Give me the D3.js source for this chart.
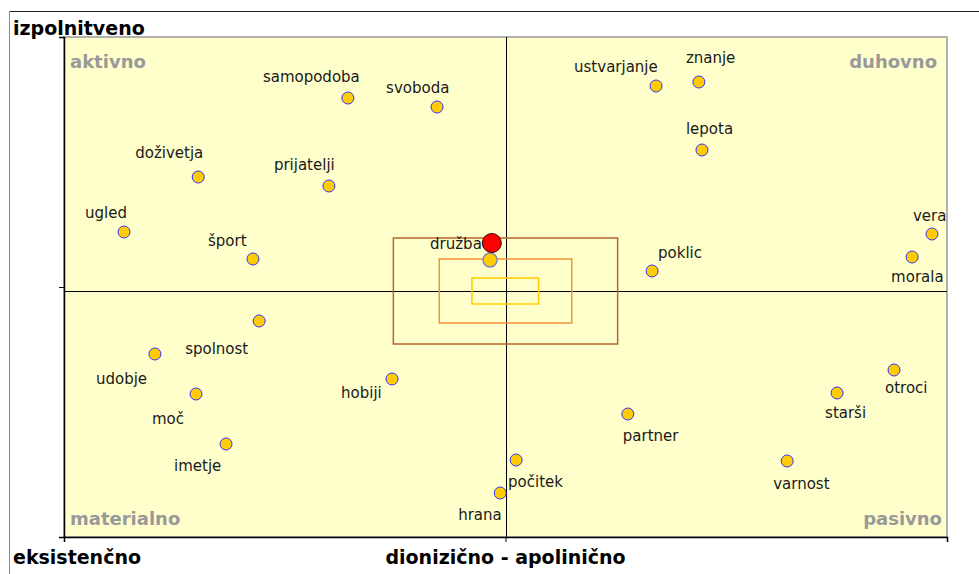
<!DOCTYPE html>
<html>
<head>
<meta charset="utf-8">
<script src="https://cdn.jsdelivr.net/npm/d3@7"></script>
<style>
  body { margin: 0; background: #fff; }
  svg { display: block; font-family: "DejaVu Sans", Verdana, sans-serif; }
</style>
</head>
<body>
<div id="chart"></div>
<script>
// values, x: dionizično(-1) .. apolinično(+1), y: eksistenčno(-1) .. izpolnitveno(+1)
const names = ["samopodoba", "svoboda", "ustvarjanje", "znanje", "lepota", "doživetja", "prijatelji",
  "ugled", "šport", "družba", "poklic", "vera", "morala", "spolnost", "udobje", "moč", "imetje",
  "hobiji", "partner", "počitek", "hrana", "varnost", "starši", "otroci"];
const xValues = [-0.357, -0.155, 0.341, 0.438, 0.445, -0.696, -0.400,
  -0.864, -0.572, -0.035, 0.332, 0.966, 0.921, -0.558, -0.794, -0.701, -0.633,
  -0.257, 0.277, 0.024, -0.012, 0.638, 0.751, 0.880];
const yValues = [0.756, 0.720, 0.804, 0.820, 0.548, 0.440, 0.404,
  0.220, 0.112, 0.108, 0.064, 0.212, 0.120, -0.136, -0.268, -0.428, -0.628,
  -0.368, -0.508, -0.692, -0.824, -0.696, -0.424, -0.332];

// the respondent's own point
const selfPoint = [-0.031, 0.176];
// centre of the cloud and the three spread boxes (x0, x1, y0, y1)
const centre = [0, -0.016];
const boxes = [
  [-0.254, 0.254, -0.228, 0.196],
  [-0.150, 0.150, -0.144, 0.112],
  [-0.076, 0.075, -0.068, 0.036]
];

const quadrants = ["aktivno", "duhovno", "materialno", "pasivno"];
const axisTitles = ["izpolnitveno", "eksistenčno", "dionizično - apolinično"];

// label placement relative to the point [dx, dy]
const labelOffset = {
  "samopodoba": [-85, -16], "svoboda": [-51, -14], "ustvarjanje": [-82, -14], "znanje": [-13, -19],
  "lepota": [-16, -16], "doživetja": [-63, -19], "prijatelji": [-55, -16], "ugled": [-39, -14],
  "šport": [-45, -13], "družba": [-60, -11], "poklic": [6, -13], "vera": [-19, -13],
  "morala": [-21, 25], "spolnost": [-74, 33], "udobje": [-59, 30], "moč": [-44, 30],
  "imetje": [-52, 27], "hobiji": [-51, 19], "partner": [-5, 27], "počitek": [-8, 27],
  "hrana": [-42, 27], "varnost": [-14, 28], "starši": [-12, 25], "otroci": [-9, 23]
};

const W = 979, H = 574;
const plotL = 64, plotR = 947, plotT = 37, plotB = 537;

const x = d3.scaleLinear().domain([-1, 1]).range([plotL, plotR]);
const y = d3.scaleLinear().domain([-1, 1]).range([plotB, plotT]);

const svg = d3.select("#chart").append("svg")
  .attr("width", W).attr("height", H);

// outer frame
svg.append("line").attr("x1", 9.5).attr("x2", W).attr("y1", 11.5).attr("y2", 11.5)
  .attr("stroke", "#222");
svg.append("line").attr("x1", 9.5).attr("x2", 9.5).attr("y1", 11.5).attr("y2", H)
  .attr("stroke", "#8a8a7a");

// plot background
svg.append("rect")
  .attr("x", plotL).attr("y", plotT)
  .attr("width", plotR - plotL).attr("height", plotB - plotT)
  .attr("fill", "#ffffcc").attr("stroke", "#999").attr("stroke-width", 1.5);

// crosshair
const g = svg.append("g");
g.append("line").attr("x1", x(-1)).attr("x2", x(1))
  .attr("y1", Math.round(y(centre[1])) + 0.5).attr("y2", Math.round(y(centre[1])) + 0.5)
  .attr("stroke", "#000");
g.append("line").attr("y1", y(-1)).attr("y2", y(1))
  .attr("x1", Math.round(x(centre[0])) + 0.5).attr("x2", Math.round(x(centre[0])) + 0.5)
  .attr("stroke", "#000");

// axes (ticks only)
svg.append("g").attr("transform", `translate(${plotL},0)`)
  .call(d3.axisLeft(y).tickValues([-1, 0]).tickSize(5).tickFormat(""))
  .call(a => a.select(".domain").attr("stroke-width", 1.5));
svg.append("g").attr("transform", `translate(0,${plotB})`)
  .call(d3.axisBottom(x).tickValues([0, 1]).tickSize(5).tickFormat(""))
  .call(a => a.select(".domain").attr("stroke-width", 1.5));

// spread boxes
const boxColors = ["#b5672e", "#f59236", "#ffcc00"];
g.selectAll("rect.box")
  .data(boxes)
  .join("rect")
  .attr("class", "box")
  .attr("x", d => x(d[0])).attr("y", d => y(d[3]))
  .attr("width", d => x(d[1]) - x(d[0])).attr("height", d => y(d[2]) - y(d[3]))
  .attr("fill", "none")
  .attr("stroke", (d, i) => boxColors[i])
  .attr("stroke-width", 1.5);

// quadrant labels
const qPos = [[plotL + 6, plotT + 31, "start"], [plotR - 10, plotT + 31, "end"],
  [plotL + 6, plotB - 12, "start"], [plotR - 5, plotB - 12, "end"]];
svg.selectAll("text.quad")
  .data(quadrants)
  .join("text")
  .attr("class", "quad")
  .attr("x", (d, i) => qPos[i][0]).attr("y", (d, i) => qPos[i][1])
  .attr("text-anchor", (d, i) => qPos[i][2])
  .attr("font-size", 18).attr("font-weight", "bold")
  .attr("fill", "#999")
  .text(d => d);

// points
const points = names.map((n, i) => ({ name: n, x: xValues[i], y: yValues[i] }));

const pg = svg.append("g");
pg.selectAll("circle")
  .data(points)
  .join("circle")
  .attr("cx", d => x(d.x)).attr("cy", d => y(d.y))
  .attr("r", d => d.name === "družba" ? 7 : 6)
  .attr("fill", "#ffcc00")
  .attr("stroke", d => d.name === "družba" ? "#7c88b8" : "#3333ff")
  .attr("stroke-width", d => d.name === "družba" ? 1.5 : 1);

pg.selectAll("text")
  .data(points)
  .join("text")
  .attr("x", d => x(d.x) + labelOffset[d.name][0])
  .attr("y", d => y(d.y) + labelOffset[d.name][1])
  .attr("font-size", 15)
  .attr("fill", "#1a1a1a")
  .text(d => d.name);

// own position
svg.append("circle")
  .attr("cx", x(selfPoint[0])).attr("cy", y(selfPoint[1]))
  .attr("r", 9.5)
  .attr("fill", "#ff0000").attr("stroke", "#3a0000").attr("stroke-width", 1);

// axis titles
svg.append("text").attr("x", 13).attr("y", 35)
  .attr("font-size", 19).attr("font-weight", "bold").text(axisTitles[0]);
svg.append("text").attr("x", 13).attr("y", 564)
  .attr("font-size", 19).attr("font-weight", "bold").text(axisTitles[1]);
svg.append("text").attr("x", x(0)).attr("y", 564).attr("text-anchor", "middle")
  .attr("font-size", 19).attr("font-weight", "bold").text(axisTitles[2]);
</script>
</body>
</html>
